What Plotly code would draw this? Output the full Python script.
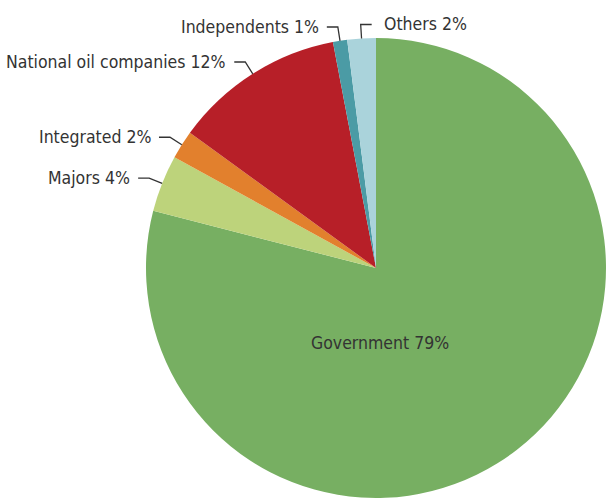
import math
import plotly.graph_objects as go

labels = ["Government", "Majors", "Integrated", "National oil companies", "Independents", "Others"]
values = [79, 4, 2, 12, 1, 2]
colors = ["#77AF62", "#BDD37B", "#E2802D", "#B71F28", "#4B9BA5", "#AAD3DB"]

W, H = 606, 501
CX, CY, R = 376, 268, 230  # pie centre / radius in pixels

FONT = "DejaVu Sans Condensed, Liberation Sans Narrow, Arial Narrow, sans-serif"
FS = 17.5
TXT = "#333333"

fig = go.Figure(go.Pie(
    labels=labels, values=values, sort=False, direction="clockwise", rotation=0,
    marker=dict(colors=colors, line=dict(width=0)),
    textinfo="none", hoverinfo="label+percent",
    domain=dict(x=[(CX - R) / W, (CX + R) / W], y=[(H - CY - R) / H, (H - CY + R) / H]),
    showlegend=False,
))

def px(x, y):
    return x / W, 1 - y / H

shapes, annots = [], []
total = sum(values)
cum = 0
for lab, v in zip(labels, values):
    mid = (cum + v / 2) / total * 2 * math.pi
    cum += v
    pct = f"{lab} {round(v / total * 100)}%"
    if lab == "Government":
        x, y = px(CX + 4, CY + 0.38 * R)
        annots.append(dict(x=x, y=y, xref="paper", yref="paper", text=pct, showarrow=False,
                           font=dict(family=FONT, size=FS, color=TXT)))
        continue
    sx, sy = math.sin(mid), -math.cos(mid)
    ex, ey = CX + R * sx, CY + R * sy
    bx, by = CX + (R + 14) * sx, CY + (R + 14) * sy
    side = 1 if lab == "Others" else -1
    hx = bx + side * 11
    pts = [px(ex, ey), px(bx, by), px(hx, by)]
    path = "M {} {} L {} {} L {} {}".format(*[c for p in pts for c in p])
    shapes.append(dict(type="path", xref="paper", yref="paper", path=path,
                       line=dict(color=TXT, width=1.3)))
    gap = 10 if side > 0 else 6
    tx, ty = px(hx + side * gap, by)
    annots.append(dict(x=tx, y=ty, xref="paper", yref="paper", text=pct, showarrow=False,
                       xanchor="left" if side > 0 else "right", yanchor="middle",
                       font=dict(family=FONT, size=FS, color=TXT)))

fig.update_layout(width=W, height=H, margin=dict(l=0, r=0, t=0, b=0),
                  paper_bgcolor="white", plot_bgcolor="white",
                  shapes=shapes, annotations=annots)
fig.write_html("out.html")
